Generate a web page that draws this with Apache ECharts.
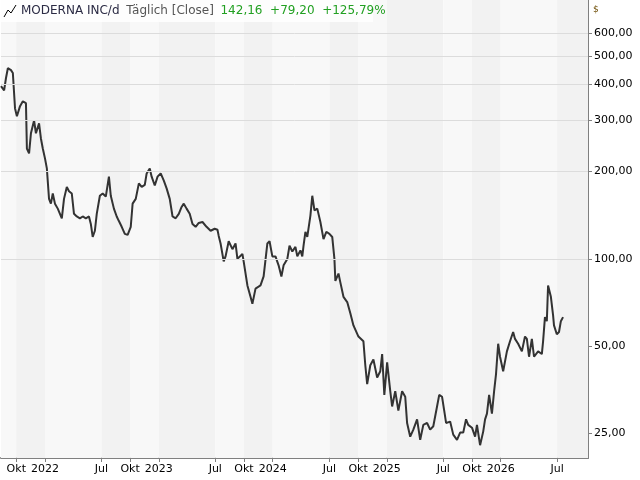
<!DOCTYPE html>
<html>
<head>
<meta charset="utf-8">
<script src="https://cdn.jsdelivr.net/npm/echarts@6/dist/echarts.min.js"></script>
<style>html,body{margin:0;padding:0;background:#fff}#main{width:640px;height:480px}</style>
</head>
<body>
<div id="main"></div>
<script>
// days since 2021-08-13 and close prices
var days = [0,10,16,22,32,38,45,51,61,70,80,83,90,96,106,112,122,128,134,141,147,154,160,166,173,182,189,195,202,211,218,227,234,243,253,262,272,282,288,294,301,307,317,326,336,346,352,362,371,378,387,397,406,416,422,432,442,451,461,467,477,483,493,502,512,522,531,541,550,560,570,579,586,595,605,614,624,634,646,659,672,685,694,698,704,714,720,730,742,752,758,774,778,790,800,806,816,832,842,854,861,870,880,890,899,906,918,925,934,944,950,960,966,970,976,982,992,998,1005,1014,1024,1034,1043,1053,1062,1069,1072,1082,1088,1098,1110,1120,1130,1146,1162,1168,1174,1184,1194,1206,1216,1222,1229,1238,1248,1254,1264,1274,1286,1296,1302,1312,1322,1334,1344,1354,1366,1376,1386,1398,1405,1414,1421,1427,1440,1450,1462,1472,1482,1491,1498,1510,1520,1526,1536,1546,1552,1558,1565,1574,1581,1587,1594,1600,1610,1622,1632,1642,1648,1658,1670,1680,1686,1693,1702,1709,1722,1734,1738,1744,1750,1754,1763,1770,1773,1782,1789,1795,1802];
var closes = [394,381,420,454,447,437,330,310,336,349,344,240,231,271,300,271,293,260,240,222,205,161,155,168,155,149,143,138,161,177,171,168,143,140,138,140,138,140,132,119,125,143,165,168,164,192,165,149,140,135,129,122,121,129,155,161,182,177,180,197,205,192,179,192,197,186,175,161,140,138,143,151,155,149,143,132,129,133,134,129,125,127,126,120,113,98,102,115,108,113,100,104,98,81,74,70,79,81,87,113,115,102,102,95,87,95,100,111,106,110,102,107,102,111,124,119,141,165,147,149,134,117,124,122,119,100,84,89,83,74,71,65,59,54,52,43,37,43,45,39,41,47,34,44,35,31,35,30,35,33.5,27.2,24.4,25.8,28,23.8,26.8,27.2,25.8,26.5,31,34,33.5,30,27.2,27.5,24.8,23.8,25.2,25.2,28,26.8,26.2,24.4,26.8,22.8,25.4,28,29.3,34,29.3,35,40,51,46,41,48,52,56,53,51,48,54,53,46,53,46,48,47,52,63,61,81,74,64,59,55,56,61,63];
var tickDates = ['2021-10-01','2022-01-01','2022-07-01','2022-10-01','2023-01-01','2023-07-01','2023-10-01','2024-01-01','2024-07-01','2024-10-01','2025-01-01','2025-07-01','2025-10-01','2026-01-01','2026-07-01'];
var yTicks = [25,50,100,200,300,400,500,600];
var gridLines = [100,200,300,400,500,600];

var DAY = 86400000;
var start = Date.UTC(2021, 7, 13);
var xMin = start, xMax = start + 1882 * DAY;
var seriesData = days.map(function(d, i){ return [start + d * DAY, closes[i]]; });
var ticks = tickDates.map(function(s){ return Date.parse(s + 'T00:00:00Z'); });

// alternating background bands between tick boundaries
var bounds = [xMin].concat(ticks, [xMax]);
var bands = [];
for (var i = 0; i < bounds.length - 1; i++) {
    bands.push([{xAxis: bounds[i], itemStyle: {color: i % 2 ? '#f2f2f2' : '#f8f8f8'}}, {xAxis: bounds[i + 1]}]);
}

var myChart = echarts.init(document.getElementById('main'));
var font = 'DejaVu Sans';
var option = {
    animation: false,
    grid: {left: 1, right: 52, top: 0, bottom: 22},
    xAxis: {
        type: 'value', min: xMin, max: xMax,
        axisLine: {lineStyle: {color: '#808080', width: 2}},
        axisTick: {show: true, customValues: ticks, length: 4, lineStyle: {color: '#808080'}},
        splitLine: {show: false},
        axisLabel: {
            customValues: ticks, color: '#000', fontFamily: font, fontSize: 11, margin: 6,
            formatter: function(v){
                var d = new Date(v), m = d.getUTCMonth();
                return m === 0 ? String(d.getUTCFullYear()) : (m === 6 ? 'Jul' : 'Okt');
            }
        }
    },
    yAxis: {
        type: 'log', logBase: 10, position: 'right', min: 20.6, max: 780,
        axisLine: {show: true, lineStyle: {color: '#808080', width: 2}},
        axisTick: {show: true, customValues: yTicks, length: 4, lineStyle: {color: '#808080'}},
        splitLine: {show: false},
        axisLabel: {
            customValues: yTicks, color: '#000', fontFamily: font, fontSize: 11, margin: 6,
            formatter: function(v){ return Number(v).toFixed(2).replace('.', ','); }
        }
    },
    series: [{
        type: 'line', data: seriesData, showSymbol: false,
        lineStyle: {color: '#333', width: 2},
        markArea: {silent: true, data: bands},
        markLine: {
            silent: true, symbol: 'none', label: {show: false},
            lineStyle: {color: '#dcdcdc', type: 'solid', width: 1},
            data: gridLines.map(function(v){ return {yAxis: v}; })
        }
    }],
    graphic: [
        {type: 'rect', left: 0, top: 0, shape: {width: 373, height: 22}, style: {fill: 'rgba(255,255,255,0.85)'}, z: 10},
        {type: 'polyline', shape: {points: [[4,17],[8,10],[11,13],[16,5]]}, style: {stroke: '#000', lineWidth: 1, fill: null}, z: 11},
        {type: 'text', left: 21, top: 5, z: 11, style: {
            text: '{a|MODERNA INC/d}  {b|Täglich [Close]}  {c|142,16  +79,20  +125,79%}',
            rich: {
                a: {fill: '#2b2b44', fontFamily: font, fontSize: 12},
                b: {fill: '#555', fontFamily: font, fontSize: 12},
                c: {fill: '#22a022', fontFamily: font, fontSize: 12}
            }
        }},
        {type: 'text', left: 593, top: 5, z: 11, style: {text: '$', fill: '#6b4a00', fontFamily: font, fontSize: 9}}
    ]
};
myChart.setOption(option);
</script>
</body>
</html>
